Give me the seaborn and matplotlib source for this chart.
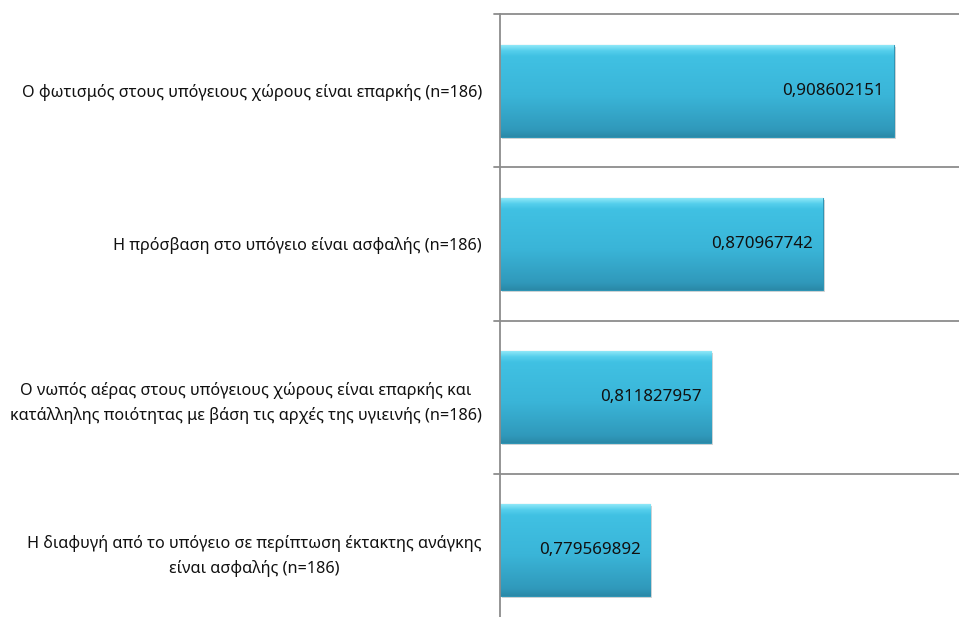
"""Horizontal bar chart - basement safety survey items (n=186)."""

import numpy as np
import pandas as pd
import seaborn as sns
import matplotlib.pyplot as plt
import matplotlib.patheffects as pe
from matplotlib.colors import LinearSegmentedColormap

# Data
labels = [
    'Ο φωτισμός στους υπόγειους χώρους είναι επαρκής (n=186)',
    'Η πρόσβαση στο υπόγειο είναι ασφαλής (n=186)',
    'Ο νωπός αέρας στους υπόγειους χώρους είναι επαρκής και\n'
    'κατάλληλης ποιότητας με βάση τις αρχές της υγιεινής (n=186)',
    'Η διαφυγή από το υπόγειο σε περίπτωση έκτακτης ανάγκης\n'
    'είναι ασφαλής (n=186)',
]
values = [0.908602151, 0.870967742, 0.811827957, 0.779569892]
x_min = 0.7

df = pd.DataFrame({'item': labels, 'score': values})

sns.set_style('white')
plt.rcParams['font.family'] = ['Noto Sans', 'DejaVu Sans']

W, H = 959, 617
fig = plt.figure(figsize=(W / 100, H / 100), dpi=100)
# plot area: left edge at x=500px, right to figure edge, bands from y=14 to y=627
ax = fig.add_axes([500 / W, (H - 627) / H, (W - 500) / W, 613 / H])

sns.barplot(data=df, y='item', x='score', orient='h', color='#3bbadc',
            width=0.6, saturation=1, ax=ax)

# Bars start at the axis minimum (like the Excel source)
for p, v in zip(ax.patches, values):
    p.set_x(x_min)
    p.set_width(v - x_min)

ax.set_xlim(x_min, x_min + (W - 500) / 1887)
ax.set_ylim(3.5, -0.5)

# Gradient fill on each bar: thin light top edge, then mid blue going darker
bar_cmap = LinearSegmentedColormap.from_list(
    'bar', [(0.0, '#8fe8f8'), (0.06, '#55cfec'), (0.12, '#40c1e3'),
            (0.55, '#3ab5d8'), (0.92, '#3099bb'), (1.0, '#2a89a8')])
grad = np.linspace(0, 1, 256).reshape(-1, 1)
for p in ax.patches:
    p.set_edgecolor('#2f95b5')
    p.set_linewidth(0.8)
    p.set_path_effects([pe.SimplePatchShadow(offset=(1.5, -1.5), shadow_rgbFace='#bbbbbb', alpha=0.6),
                        pe.Normal()])
    x, y = p.get_x(), p.get_y()
    w, h = p.get_width(), p.get_height()
    im = ax.imshow(grad, cmap=bar_cmap, aspect='auto', extent=[x, x + w, y + h, y],
                   zorder=p.get_zorder() + 0.1, interpolation='bilinear')
    im.set_clip_path(p)

# Value labels, decimal comma, inside end
for p, v in zip(ax.patches, values):
    ax.annotate(f'{v:.9f}'.replace('.', ','), xy=(p.get_x() + p.get_width(), p.get_y() + p.get_height() / 2),
                xytext=(-7, 0), textcoords='offset points', ha='right', va='center',
                fontsize=12.2, color='#111111', zorder=5)

ax.set_xlim(x_min, x_min + (W - 500) / 1887)
ax.set_ylim(3.5, -0.5)

# Category separators and axis line
for yb in np.arange(-0.5, 4.0, 1.0):
    ax.plot([-0.013, 1], [yb, yb], transform=ax.get_yaxis_transform(), color='#8c8c8c',
            lw=1.3, clip_on=False, zorder=1)
for s in ['top', 'right', 'bottom']:
    ax.spines[s].set_visible(False)
ax.spines['left'].set_color('#8c8c8c')
ax.spines['left'].set_linewidth(1.3)

ax.set_xticks([])
ax.tick_params(axis='y', length=0, pad=13)
ax.set_yticks(range(len(labels)))
ax.set_yticklabels(labels, fontsize=11.7, color='#111111', ha='right', multialignment='center',
                   linespacing=1.6)
ax.set_xlabel('')
ax.set_ylabel('')

fig.savefig('out.png', dpi=100)
